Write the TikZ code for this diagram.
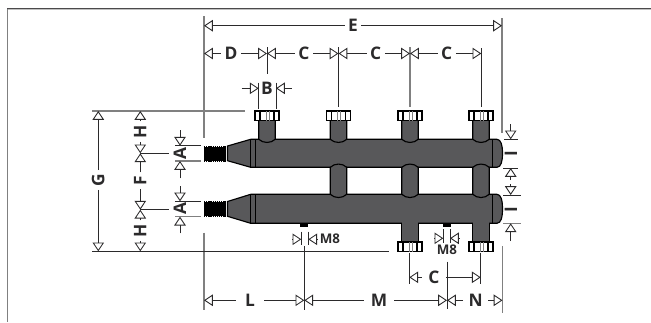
\documentclass[tikz,border=0pt]{standalone}
\usepackage{fontspec}
\setmainfont{Open Sans}
\usepackage{xcolor}
\usetikzlibrary{arrows.meta}
\definecolor{pipegray}{HTML}{58585A}
\definecolor{inkdark}{HTML}{2B2A2B}
\definecolor{linegray}{HTML}{808080}
\tikzset{
	lbl/.style={font=\fontsize{13}{13}\bfseries\selectfont,text=inkdark,inner sep=2.5pt},
	lblsmall/.style={font=\fontsize{10}{10}\bfseries\selectfont,text=inkdark,inner sep=0pt},
	dimtip/.style={draw=inkdark,line width=0.65pt,-{Triangle[open,length=6.6pt,width=8.6pt]}},
	extline/.style={draw=inkdark,line width=0.65pt},
	extgray/.style={draw=linegray,line width=1pt},
	pipe/.style={fill=pipegray,draw=black,line width=0.85pt},
	nutbox/.style={fill=white,draw=black,line width=1.1pt},
}
% hexagon nut: centre x, top y, bottom y
\newcommand{\nutshape}[3]{
	\draw[nutbox] ({#1-12.2},#2) -- ({#1+12.2},#2) -- ({#1+12.2},#3) -- ({#1-12.2},#3) -- cycle;
	\draw[black,line width=1pt] ({#1-7},#2) -- ({#1-7},#3);
	\draw[black,line width=1pt] ({#1+7},#2) -- ({#1+7},#3);
	\draw[linegray,line width=0.7pt] ({#1-1},#2) -- ({#1-1},#3);
	\draw[linegray,line width=0.7pt] ({#1+2},#2) -- ({#1+2},#3);
}
\begin{document}
\begin{tikzpicture}[x=0.75pt,y=-0.75pt]
	\useasboundingbox (0,0) rectangle (651,322);
	% frame
	\draw[linegray!50,line width=0.75pt] (8,9.7) -- (651,9.7);
	\draw[linegray,line width=1.1pt] (7.5,8.5) -- (7.5,322);
	\draw[inkdark!85,line width=0.8pt] (7,8.5) -- (651,8.5);

	% left ends
	\fill[black] (204,146.5) rectangle (226,160.5);
	\fill[black] (204,202) rectangle (226,216);
	\draw[black,line width=0.6pt,dash pattern=on 1pt off 0.6pt] (204,146) -- (226,146);
	\draw[black,line width=0.6pt,dash pattern=on 1pt off 0.6pt] (204,161) -- (226,161);
	\draw[black,line width=0.6pt,dash pattern=on 1pt off 0.6pt] (204,201.5) -- (226,201.5);
	\draw[black,line width=0.6pt,dash pattern=on 1pt off 0.6pt] (204,216.5) -- (226,216.5);

	% collectors
	\draw[pipe] (227.5,146) -- (250.7,139.3) -- (497,139.3) .. controls (501,139.6) and (502.5,145) .. (502.5,153.3)
		.. controls (502.5,161.6) and (501,167) .. (497,167.3) -- (250.7,167.3) -- (227.5,160.7) -- cycle;
	\draw[pipe] (227.5,201.5) -- (250.7,194.3) -- (497,194.3) .. controls (501,194.6) and (502.5,200) .. (502.5,208.8)
		.. controls (502.5,217.6) and (501,223) .. (497,223.3) -- (250.7,223.3) -- (227.5,216.3) -- cycle;
	\foreach \bandx in {250.7,255.7,492.7} {
		\draw[black,line width=0.85pt] (\bandx,139.3) -- (\bandx,167.3);
		\draw[black,line width=0.85pt] (\bandx,194.3) -- (\bandx,223.3);
	}

	% outlets
	\foreach \px in {267,338.5,410,481} {
		\draw[pipe] ({\px-8.2},120) -- ({\px-8.2},139.3) .. controls ({\px-4},143.5) and ({\px+4},143.5) .. ({\px+8.2},139.3) -- ({\px+8.2},120);
		\nutshape{\px}{111}{120.7}
	}
	\foreach \px in {338.5,410,481} {
		\draw[pipe] ({\px-8.2},167.3) .. controls ({\px-4},163) and ({\px+4},163) .. ({\px+8.2},167.3) -- ({\px+8.2},194.3)
			.. controls ({\px+4},198.6) and ({\px-4},198.6) .. ({\px-8.2},194.3) -- cycle;
	}
	\foreach \px in {410,481} {
		\fill[pipegray] ({\px-8.2},222) rectangle ({\px+8.2},242);
		\draw[black,line width=0.85pt] ({\px-8.2},223.3) -- ({\px-8.2},242);
		\draw[black,line width=0.85pt] ({\px+8.2},223.3) -- ({\px+8.2},242);
		\nutshape{\px}{242}{251.7}
	}
	% M8 sockets
	\fill[black] (300.3,222.8) rectangle (308.3,226.6);
	\fill[black] (443,222.8) rectangle (451,226.6);

	% extension lines
	\draw[extgray] (204,16) -- (204,138);
	\draw[extgray] (204,232.7) -- (204,310);
	\draw[extgray] (502,18) -- (502,133);
	\draw[extgray] (502.5,246) -- (502.5,313);
	\draw[extline] (267,47) -- (267,74);
	\draw[extline] (338.5,47) -- (338.5,106.5);
	\draw[extgray] (410,47) -- (410,106.5);
	\draw[extline] (481.3,48) -- (481.3,106.5);
	\draw[extline] (258.7,82.7) -- (258.7,109);
	\draw[extline] (276,82.7) -- (276,109);
	\draw[extgray] (92,111) -- (245,111);
	\draw[extline] (92,251.3) -- (389,251.3);
	\draw[extline] (140.3,153.3) -- (169,153.3);
	\draw[extline] (140.3,209.7) -- (169,209.7);
	\draw[extline] (175,145.7) -- (201,145.7);
	\draw[extgray] (175,161) -- (201,161);
	\draw[extline] (175,201.3) -- (201,201.3);
	\draw[extgray] (175,216.7) -- (201,216.7);
	\draw[extline] (504,139.3) -- (518,139.3);
	\draw[extline] (503,168) -- (518,168);
	\draw[extline] (503,195) -- (521,195);
	\draw[extgray] (503,223.3) -- (521,223.3);
	\draw[extline] (301.3,231.7) -- (301.3,245);
	\draw[extline] (308.3,231.7) -- (308.3,245);
	\draw[extline] (443.3,229) -- (443.3,242.7);
	\draw[extline] (450,229) -- (450,242.7);
	\draw[extline] (304.3,246) -- (304.3,310);
	\draw[extline] (447,261.7) -- (447,309);
	\draw[extline] (409.3,252.7) -- (409.3,284.3);
	\draw[extline] (480.7,252.7) -- (480.7,284.3);

	% top dimensions
	\node[lbl] (labelE) at (353,25.7) {E};
	\coordinate (tipEleft) at (204,25.7);
	\coordinate (tipEright) at (502,25.7);
	\draw[dimtip] (labelE) -- (tipEleft);
	\draw[dimtip] (labelE) -- (tipEright);

	\node[lbl] (labelD) at (231,53.5) {D};
	\node[lbl] (labelCa) at (304,53.5) {C};
	\node[lbl] (labelCb) at (375.7,53.5) {C};
	\node[lbl] (labelCc) at (446.7,53.5) {C};
	\coordinate (tipD) at (204,53.5);
	\coordinate (joinA) at (267,53.5);
	\coordinate (joinB) at (338.5,53.5);
	\coordinate (joinC) at (410,53.5);
	\coordinate (tipCc) at (481.3,53.5);
	\draw[dimtip] (labelD) -- (tipD);
	\draw[dimtip] (labelD) -- (joinA);
	\draw[dimtip] (labelCa) -- (joinA);
	\draw[dimtip] (labelCa) -- (joinB);
	\draw[dimtip] (labelCb) -- (joinB);
	\draw[dimtip] (labelCb) -- (joinC);
	\draw[dimtip] (labelCc) -- (joinC);
	\draw[dimtip] (labelCc) -- (tipCc);

	\node[lbl] (labelB) at (267,88.3) {B};
	\draw[dimtip] (241.7,88.3) -- (258.7,88.3);
	\draw[dimtip] (291.7,88.3) -- (276,88.3);

	% left dimensions
	\node[lbl,rotate=90] (labelG) at (98.3,180) {G};
	\coordinate (tipGtop) at (98.3,111);
	\coordinate (tipGbot) at (98.3,251.3);
	\draw[dimtip] (labelG) -- (tipGtop);
	\draw[dimtip] (labelG) -- (tipGbot);

	\node[lbl,rotate=90] (labelHa) at (140.3,131.7) {H};
	\node[lbl,rotate=90] (labelF) at (140.3,180.7) {F};
	\node[lbl,rotate=90] (labelHb) at (140.3,230.7) {H};
	\coordinate (tipHa) at (140.3,111);
	\coordinate (joinFa) at (140.3,153.3);
	\coordinate (joinFb) at (140.3,209.7);
	\coordinate (tipHb) at (140.3,251.3);
	\draw[dimtip] (labelHa) -- (tipHa);
	\draw[dimtip] (labelHa) -- (joinFa);
	\draw[dimtip] (labelF) -- (joinFa);
	\draw[dimtip] (labelF) -- (joinFb);
	\draw[dimtip] (labelHb) -- (joinFb);
	\draw[dimtip] (labelHb) -- (tipHb);

	\node[lbl,rotate=90] (labelAa) at (180,153.3) {A};
	\node[lbl,rotate=90] (labelAb) at (180,209) {A};
	\draw[dimtip] (180,130) -- (180,145.7);
	\draw[dimtip] (180,178.3) -- (180,161);
	\draw[dimtip] (180,186) -- (180,201.3);
	\draw[dimtip] (180,233.3) -- (180,216.7);

	% right dimensions
	\node[lbl,rotate=90] (labelIa) at (511,153.3) {I};
	\node[lbl,rotate=90] (labelIb) at (511,209.3) {I};
	\draw[dimtip] (510.7,124) -- (510.7,139.3);
	\draw[dimtip] (510.7,180) -- (510.7,168);
	\draw[dimtip] (510.7,184) -- (510.7,195);
	\draw[dimtip] (510.7,241) -- (510.7,223.3);

	% bottom dimensions
	\node[lblsmall] (labelMa) at (330,239) {M8};
	\node[lblsmall] (labelMb) at (447,250) {M8};
	\draw[dimtip] (292,239.3) -- (301.3,239.3);
	\draw[dimtip] (318,239.3) -- (308.3,239.3);
	\draw[dimtip] (434,238.3) -- (443.3,238.3);
	\draw[dimtip] (459.5,238.3) -- (450,238.3);

	\node[lbl,inner xsep=5pt] (labelCd) at (434,277.3) {C};
	\coordinate (tipCdleft) at (409.3,277.3);
	\coordinate (tipCdright) at (480.7,277.3);
	\draw[dimtip] (labelCd) -- (tipCdleft);
	\draw[dimtip] (labelCd) -- (tipCdright);

	\node[lbl,inner xsep=7pt] (labelL) at (250,300.3) {L};
	\node[lbl,inner xsep=5pt] (labelM) at (379,300.3) {M};
	\node[lbl,inner xsep=4pt] (labelN) at (475.7,300.3) {N};
	\coordinate (tipL) at (204,300.3);
	\coordinate (joinL) at (304.3,300.3);
	\coordinate (joinM) at (447,300.3);
	\coordinate (tipN) at (502.5,300.3);
	\draw[dimtip] (labelL) -- (tipL);
	\draw[dimtip] (labelL) -- (joinL);
	\draw[dimtip] (labelM) -- (joinL);
	\draw[dimtip] (labelM) -- (joinM);
	\draw[dimtip] (labelN) -- (joinM);
	\draw[dimtip] (labelN) -- (tipN);
\end{tikzpicture}
\end{document}
